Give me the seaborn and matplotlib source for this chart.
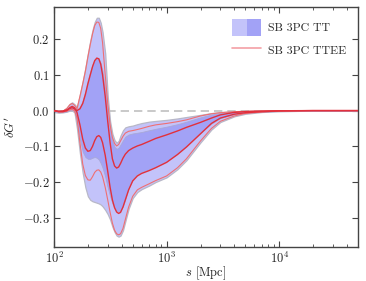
import numpy as np
import pandas as pd
import matplotlib
matplotlib.use("Agg")
import matplotlib.pyplot as plt
from matplotlib.patches import Patch
from matplotlib.lines import Line2D
from matplotlib.legend_handler import HandlerTuple
import seaborn as sns

# separation grid [Mpc]
s = [100, 110, 120, 130, 138, 145, 152, 160, 170, 180, 190, 200, 210, 220, 230, 240,
     250, 260, 270, 285, 300, 315, 330, 345, 360, 375, 390, 410, 430, 460, 500, 550,
     600, 700, 800, 1000, 1250, 1500, 2000, 2500, 3000, 4000, 5000, 7000, 10000,
     20000, 50000]

# SB 3PC TT, 2 sigma band
tt_hi2 = [0.002, 0.0, 0.0, 0.008, 0.019, 0.023, 0.018, 0.01, 0.045, 0.082, 0.12, 0.16,
          0.196, 0.226, 0.248, 0.26, 0.26, 0.246, 0.22, 0.16, 0.04, -0.03, -0.065,
          -0.083, -0.09, -0.085, -0.07, -0.055, -0.047, -0.044, -0.042, -0.038, -0.035,
          -0.031, -0.029, -0.026, -0.022, -0.018, -0.012, -0.007, -0.004, -0.002,
          -0.001, 0.0, 0.0, 0.0, 0.0]
tt_lo2 = [-0.004, -0.006, -0.005, -0.003, 0.0, 0.0, -0.005, -0.05, -0.12, -0.175,
          -0.215, -0.24, -0.25, -0.254, -0.256, -0.258, -0.26, -0.263, -0.268, -0.278,
          -0.29, -0.305, -0.325, -0.34, -0.35, -0.353, -0.35, -0.335, -0.31, -0.275,
          -0.245, -0.228, -0.22, -0.21, -0.2, -0.187, -0.164, -0.139, -0.089, -0.053,
          -0.032, -0.016, -0.009, -0.004, -0.002, 0.0, 0.0]

# SB 3PC TT, 1 sigma band
tt_hi1 = [0.001, -0.001, -0.001, 0.004, 0.01, 0.012, 0.008, 0.003, 0.01, 0.028, 0.055,
          0.085, 0.11, 0.13, 0.143, 0.148, 0.146, 0.133, 0.11, 0.06, 0.0, -0.05, -0.085,
          -0.102, -0.107, -0.104, -0.095, -0.083, -0.073, -0.067, -0.064, -0.062, -0.06,
          -0.055, -0.051, -0.045, -0.038, -0.031, -0.019, -0.011, -0.007, -0.003,
          -0.002, -0.001, 0.0, 0.0, 0.0]
tt_lo1 = [-0.002, -0.004, -0.004, -0.002, 0.002, 0.003, 0.0, -0.03, -0.08, -0.115,
          -0.13, -0.135, -0.135, -0.132, -0.13, -0.132, -0.137, -0.147, -0.16, -0.185,
          -0.215, -0.24, -0.26, -0.272, -0.28, -0.283, -0.28, -0.267, -0.248, -0.218,
          -0.192, -0.178, -0.172, -0.164, -0.157, -0.142, -0.12, -0.1, -0.062, -0.036,
          -0.021, -0.01, -0.006, -0.003, -0.001, 0.0, 0.0]

# SB 3PC TTEE contours
ttee_hi2 = [0.0, -0.003, -0.002, 0.006, 0.016, 0.02, 0.015, 0.005, 0.04, 0.075, 0.11,
            0.15, 0.185, 0.215, 0.238, 0.248, 0.247, 0.23, 0.19, 0.1, 0.02, -0.04,
            -0.075, -0.092, -0.099, -0.095, -0.085, -0.072, -0.063, -0.058, -0.056,
            -0.053, -0.05, -0.044, -0.04, -0.036, -0.031, -0.026, -0.015, -0.009,
            -0.006, -0.003, -0.002, -0.001, 0.0, 0.0, 0.0]
ttee_hi1 = [0.0, -0.002, -0.001, 0.002, 0.006, 0.008, 0.005, 0.0, 0.005, 0.02, 0.045,
            0.075, 0.1, 0.123, 0.14, 0.147, 0.145, 0.13, 0.1, 0.04, -0.03, -0.09,
            -0.135, -0.155, -0.161, -0.158, -0.148, -0.133, -0.122, -0.112, -0.105,
            -0.099, -0.095, -0.086, -0.078, -0.068, -0.057, -0.047, -0.033, -0.021,
            -0.012, -0.005, -0.003, -0.0015, -0.0005, 0.0, 0.0]
ttee_lo1 = [0.0, -0.003, -0.003, 0.0, 0.008, 0.012, 0.008, -0.005, -0.04, -0.08, -0.105,
            -0.114, -0.112, -0.1, -0.084, -0.073, -0.07, -0.075, -0.09, -0.125, -0.17,
            -0.215, -0.25, -0.272, -0.284, -0.288, -0.285, -0.27, -0.25, -0.222, -0.197,
            -0.183, -0.176, -0.168, -0.16, -0.145, -0.123, -0.102, -0.065, -0.036,
            -0.021, -0.01, -0.006, -0.003, -0.001, 0.0, 0.0]
ttee_lo2 = [0.0, -0.004, -0.004, -0.002, 0.002, 0.003, 0.0, -0.02, -0.09, -0.15, -0.182,
            -0.194, -0.195, -0.185, -0.173, -0.167, -0.166, -0.172, -0.185, -0.215, -0.25,
            -0.285, -0.315, -0.335, -0.345, -0.348, -0.345, -0.33, -0.305, -0.27, -0.24,
            -0.222, -0.215, -0.205, -0.196, -0.183, -0.16, -0.135, -0.085, -0.05, -0.03,
            -0.015, -0.008, -0.004, -0.0015, 0.0, 0.0]

sns.set_style("ticks")
plt.rcParams["font.family"] = ["cmr10", "DejaVu Serif"]
plt.rcParams["mathtext.fontset"] = "cm"
plt.rcParams["axes.formatter.use_mathtext"] = True
plt.rcParams["font.size"] = 9

light = "#c3c3fa"
dark = "#a2a2f6"
red_in = "#e2303c"
red_out = "#ef6f72"

fig = plt.figure(figsize=(3.66, 2.81), dpi=100)
ax = fig.add_axes([0.1475, 0.121, 0.8305, 0.854])

ax.axhline(0, color="#c0c0c0", ls=(0, (5, 3)), lw=1.2, zorder=0)

ax.fill_between(s, tt_lo2, tt_hi2, facecolor=light, edgecolor="#b8b8c8", lw=0.9, zorder=1)
ax.fill_between(s, tt_lo1, tt_hi1, facecolor=dark, edgecolor="#a8a8d8", lw=0.6, zorder=2)

df = pd.DataFrame({"s": s, "hi2": ttee_hi2, "hi1": ttee_hi1,
                   "lo1": ttee_lo1, "lo2": ttee_lo2})
for col, c, w in [("hi2", red_out, 0.8), ("lo2", red_out, 0.8),
                  ("hi1", red_in, 1.0), ("lo1", red_in, 1.0)]:
    sns.lineplot(data=df, x="s", y=col, ax=ax, color=c, lw=w, sort=False, zorder=3)

ax.set_xscale("log")
ax.set_xlim(100, 5e4)
ax.set_ylim(-0.382, 0.29)
ax.set_yticks([-0.3, -0.2, -0.1, 0.0, 0.1, 0.2])
ax.set_xlabel(r"$s$ [Mpc]", labelpad=-1.5)
ax.set_ylabel(r"$\delta G'$", labelpad=3)

for sp in ax.spines.values():
    sp.set_color("#444444")
    sp.set_linewidth(1.0)
ax.tick_params(which="both", direction="in", top=True, right=True, color="#444444",
               labelsize=9)
ax.tick_params(which="major", length=4, width=0.8, pad=3)
ax.tick_params(which="minor", length=2, width=0.6)

handles = [(Patch(facecolor=light, edgecolor="none"), Patch(facecolor=dark, edgecolor="none")),
           Line2D([], [], color="#f4a0a6", lw=1.2)]
ax.legend(handles, ["SB 3PC TT", "SB 3PC TTEE"], loc="upper right", frameon=False,
          handler_map={tuple: HandlerTuple(ndivide=None, pad=0)},
          handlelength=2.4, handleheight=1.8, labelspacing=0.55, fontsize=8.5,
          borderaxespad=0.6, handletextpad=0.6)

fig.savefig("out.png", dpi=100)
